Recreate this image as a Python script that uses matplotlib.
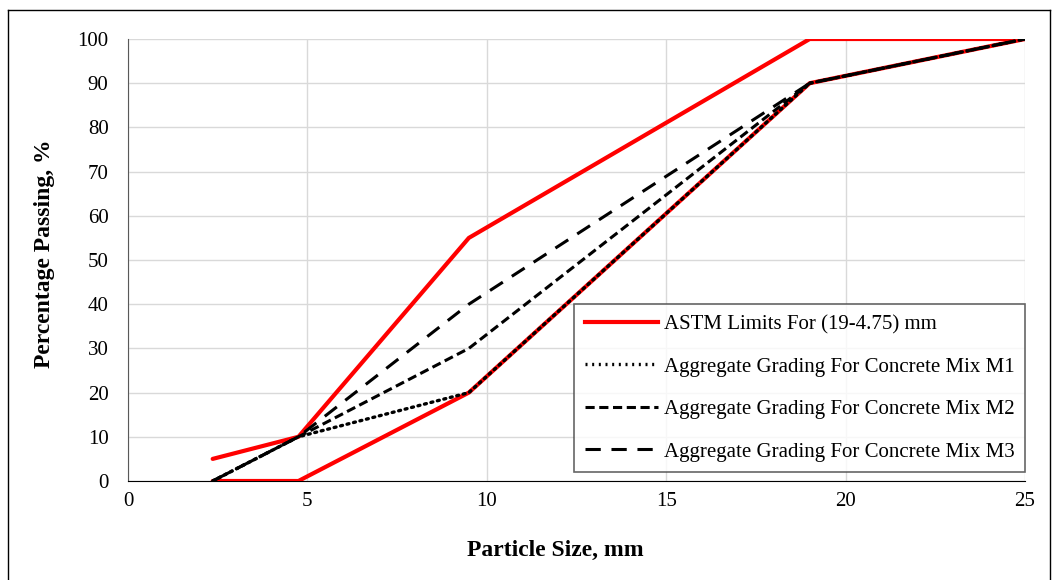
import matplotlib
matplotlib.use("Agg")
import matplotlib.pyplot as plt
from matplotlib.lines import Line2D

plt.rcParams['font.family'] = ['Liberation Serif', 'DejaVu Serif']

sieve = [2.36, 4.75, 9.5, 19, 25]
astm_upper = [5, 10, 55, 100, 100]
astm_lower = [0, 0, 20, 90, 100]
mix_m1 = [0, 10, 20, 90, 100]
mix_m2 = [0, 10, 30, 90, 100]
mix_m3 = [0, 10, 40, 90, 100]

fig = plt.figure(figsize=(10.53, 5.8), dpi=100)
ax = fig.add_axes([128/1053, 1-481/580, (1025-128)/1053, (481-39)/580])

red = '#ff0000'
ax.plot(sieve, astm_upper, color=red, lw=3, solid_capstyle='round', zorder=3)
ax.plot(sieve, astm_lower, color=red, lw=3, solid_capstyle='round', zorder=3)
ax.plot(sieve, mix_m1, color='black', lw=2.4, linestyle=(0, (0.6, 1.4)), dash_capstyle='round', zorder=4)
ax.plot(sieve, mix_m2, color='black', lw=2.2, linestyle=(0, (3, 1.5)), zorder=4)
ax.plot(sieve, mix_m3, color='black', lw=2.2, linestyle=(0, (5, 3.5)), zorder=4)

ax.set_xlim(0, 25)
ax.set_ylim(0, 100)
ax.set_xticks(range(0, 26, 5))
ax.set_yticks(range(0, 101, 10))
ax.grid(True, color='#d9d9d9', lw=1)
ax.set_axisbelow(True)
for s in ['top', 'right']:
    ax.spines[s].set_visible(False)
ax.spines['left'].set_color('#595959')
ax.spines['bottom'].set_color('black')
ax.tick_params(axis='y', length=0, labelsize=15, pad=14)
ax.tick_params(axis='x', length=0, labelsize=15, pad=8)

ax.set_xlabel('Particle Size, mm', fontsize=17, fontweight='bold')
ax.set_ylabel('Percentage Passing, %', fontsize=17, fontweight='bold')
ax.xaxis.set_label_coords(0.476, -0.134)
ax.yaxis.set_label_coords(-0.081, 0.514)

handles = [
    Line2D([], [], color=red, lw=3),
    Line2D([], [], color='black', lw=2.4, linestyle=(0, (0.6, 1.4))),
    Line2D([], [], color='black', lw=2.2, linestyle=(0, (3, 1.5))),
    Line2D([], [], color='black', lw=2.2, linestyle=(0, (5, 3.5))),
]
labels = ['ASTM Limits For (19-4.75) mm',
          'Aggregate Grading For Concrete Mix M1',
          'Aggregate Grading For Concrete Mix M2',
          'Aggregate Grading For Concrete Mix M3']
leg = ax.legend(handles, labels, loc='lower right', bbox_to_anchor=(1.0, 9/442),
                borderaxespad=0,
                fontsize=15, frameon=True, fancybox=False, edgecolor='#404040',
                handlelength=3.5, labelspacing=1.1, borderpad=0.5, handletextpad=0.3)
leg.get_frame().set_linewidth(1.2)

# figure border
fig.add_artist(Line2D([8/1053, 8/1053], [0, 1-10/580], color='black', lw=1, transform=fig.transFigure))
fig.add_artist(Line2D([8/1053, 1050/1053], [1-10/580, 1-10/580], color='black', lw=1, transform=fig.transFigure))
fig.add_artist(Line2D([1050/1053, 1050/1053], [0, 1-10/580], color='black', lw=1, transform=fig.transFigure))

fig.savefig('out.png', dpi=100)
